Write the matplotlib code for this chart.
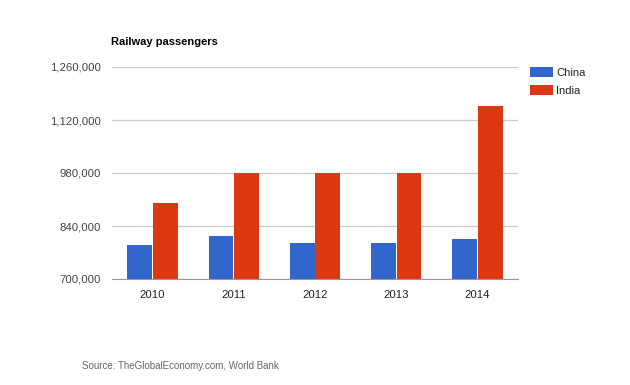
import matplotlib
matplotlib.use("Agg")
import matplotlib.pyplot as plt
import numpy as np

years = ["2010", "2011", "2012", "2013", "2014"]
china = [790000, 814000, 794000, 794000, 806000]
india = [901000, 979000, 979000, 979000, 1158000]
yticks = [700000, 840000, 980000, 1120000, 1260000]

plt.rcParams['font.family'] = ['Liberation Sans', 'DejaVu Sans']

fig = plt.figure(figsize=(6.3, 3.85), dpi=100)
ax = fig.add_axes([112/630, 1-279/385, 406/630, 212/385])

x = np.arange(len(years))
w = 0.305
ax.bar(x - w/2 - 0.005, china, width=w, color="#3366cc", label="China", zorder=3)
ax.bar(x + w/2 + 0.005, india, width=w, color="#dc3912", label="India", zorder=3)

ax.set_xlim(-0.5, len(years) - 0.5)
ax.set_ylim(700000, 1260000)
ax.set_yticks(yticks)
ax.set_yticklabels([f"{v:,}" for v in yticks])
ax.set_xticks(x)
ax.set_xticklabels(years)
ax.tick_params(axis='both', length=0, labelsize=8.2, pad=8)
for lab in ax.get_yticklabels():
    lab.set_color("#444444")
for lab in ax.get_xticklabels():
    lab.set_color("#222222")
ax.grid(axis='y', color="#cccccc", linewidth=0.9, zorder=0)
for s in ['top', 'right', 'left']:
    ax.spines[s].set_visible(False)
ax.spines['bottom'].set_color("#999999")
ax.spines['bottom'].set_zorder(4)

fig.text(111/630, 1-42/385, "Railway passengers", fontsize=8, fontweight='bold',
         color="#000000", va='center', ha='left')

leg = fig.legend(loc='upper left', bbox_to_anchor=(526/630, 1-63/385), frameon=False,
                 fontsize=8, handlelength=2.0, handleheight=1.0, labelspacing=0.6,
                 borderaxespad=0, handletextpad=0.3)
for t in leg.get_texts():
    t.set_color("#222222")

fig.text(82/630, 1-366/385, "Source: TheGlobalEconomy.com, World Bank", fontsize=7,
         color="#666666", va='center', ha='left')

fig.savefig("out.png", dpi=100)
